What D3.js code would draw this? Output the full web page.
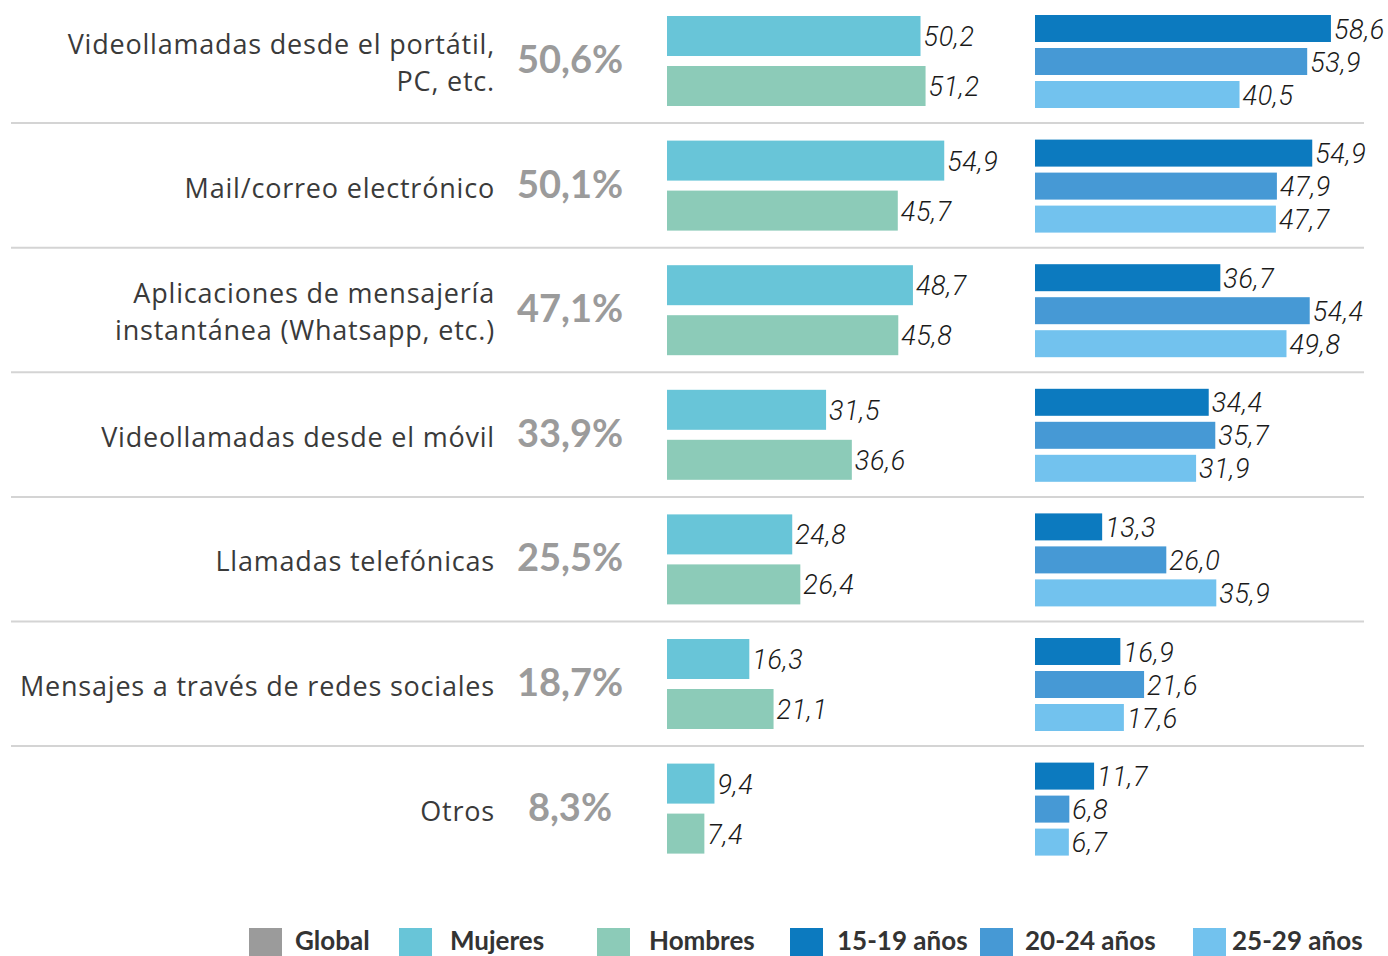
<!DOCTYPE html>
<html>
<head>
<meta charset="utf-8">
<script src="https://cdn.jsdelivr.net/npm/d3@7"></script>
<style>
  html, body { margin: 0; padding: 0; background: #fff; }
  svg { display: block; }
</style>
</head>
<body>
<div id="chart"></div>
<script>
const categories = [
  ["Videollamadas desde el portátil,", "PC, etc."],
  ["Mail/correo electrónico"],
  ["Aplicaciones de mensajería", "instantánea (Whatsapp, etc.)"],
  ["Videollamadas desde el móvil"],
  ["Llamadas telefónicas"],
  ["Mensajes a través de redes sociales"],
  ["Otros"]
]
const globalValues = [50.6, 50.1, 47.1, 33.9, 25.5, 18.7, 8.3]
const mujeres = [50.2, 54.9, 48.7, 31.5, 24.8, 16.3, 9.4]
const hombres = [51.2, 45.7, 45.8, 36.6, 26.4, 21.1, 7.4]
const age1519 = [58.6, 54.9, 36.7, 34.4, 13.3, 16.9, 11.7]
const age2024 = [53.9, 47.9, 54.4, 35.7, 26.0, 21.6, 6.8]
const age2529 = [40.5, 47.7, 49.8, 31.9, 35.9, 17.6, 6.7]
const legendLabels = ["Global", "Mujeres", "Hombres", "15-19 años", "20-24 años", "25-29 años"]

const colors = {
  "Global": "#9b9b9b",
  "Mujeres": "#68c5d8",
  "Hombres": "#8ccbb8",
  "15-19 años": "#0c7abf",
  "20-24 años": "#4699d5",
  "25-29 años": "#72c2ee"
}

const width = 1388, height = 956
const fmt = v => v.toFixed(1).replace(".", ",")

const svg = d3.select("#chart").append("svg")
  .attr("width", width)
  .attr("height", height)

const rowKeys = d3.range(categories.length)
const y = d3.scaleBand()
  .domain(rowKeys)
  .range([0, 124.6 * categories.length])

const x = d3.scaleLinear().domain([0, 60]).range([0, 303])
const genderX0 = 667, ageX0 = 1035

const yGender = d3.scaleBand().domain(["Mujeres", "Hombres"]).range([16, 106]).paddingInner(0.2)
const yAge = d3.scaleBand().domain(["15-19 años", "20-24 años", "25-29 años"]).range([15, 108]).paddingInner(6 / 33)

// separators
svg.append("g").selectAll("line")
  .data(rowKeys.slice(1))
  .join("line")
  .attr("x1", 11).attr("x2", 1364)
  .attr("y1", d => y(d) - 1.5).attr("y2", d => y(d) - 1.5)
  .attr("stroke", "#d4d4d4").attr("stroke-width", 2)

const rows = svg.append("g").selectAll("g.row")
  .data(rowKeys)
  .join("g")
  .attr("class", "row")
  .attr("transform", d => `translate(0, ${y(d)})`)

// category labels
rows.append("text")
  .attr("text-anchor", "end")
  .attr("font-family", "'Open Sans', sans-serif")
  .attr("font-size", 27)
  .attr("letter-spacing", 0.8)
  .attr("fill", "#3a3a3a")
  .selectAll("tspan")
  .data(d => categories[d].map((t, i, arr) => ({ t, i, n: arr.length })))
  .join("tspan")
  .attr("x", 495)
  .attr("y", d => d.n === 1 ? 73 : 54 + d.i * 37)
  .text(d => d.t)

// global %
rows.append("text")
  .attr("x", 570)
  .attr("y", 73)
  .attr("text-anchor", "middle")
  .attr("font-family", "Lato, sans-serif")
  .attr("font-weight", 700)
  .attr("font-size", 38)
  .attr("fill", colors["Global"])
  .text(d => fmt(globalValues[d]) + "%")

function drawGroup(series, yScale, x0) {
  rows.each(function(r) {
    const g = d3.select(this)
    const items = series.map(s => ({ key: s.key, v: s.values[r] }))
    g.selectAll(null)
      .data(items)
      .join("rect")
      .attr("x", x0)
      .attr("y", d => yScale(d.key))
      .attr("width", d => x(d.v))
      .attr("height", yScale.bandwidth())
      .attr("fill", d => colors[d.key])
    g.selectAll(null)
      .data(items)
      .join("text")
      .attr("x", d => x0 + x(d.v) + 3)
      .attr("y", d => yScale(d.key) + yScale.bandwidth() / 2 + 10)
      .attr("font-family", "Roboto, sans-serif")
      .attr("font-style", "italic")
      .attr("font-weight", 300)
      .attr("font-size", 27)
      .attr("letter-spacing", 0.6)
      .attr("fill", "#1a1a1a")
      .text(d => fmt(d.v))
  })
}

drawGroup([
  { key: "Mujeres", values: mujeres },
  { key: "Hombres", values: hombres }
], yGender, genderX0)

drawGroup([
  { key: "15-19 años", values: age1519 },
  { key: "20-24 años", values: age2024 },
  { key: "25-29 años", values: age2529 }
], yAge, ageX0)

// legend
const legendX = [249, 399, 597, 790, 980, 1193]
const legendTextX = [295, 450, 649, 837, 1025, 1232]
const legend = svg.append("g").selectAll("g")
  .data(legendLabels)
  .join("g")

legend.append("rect")
  .attr("x", (d, i) => legendX[i])
  .attr("y", 928)
  .attr("width", 33).attr("height", 30)
  .attr("fill", d => colors[d])

legend.append("text")
  .attr("x", (d, i) => legendTextX[i])
  .attr("y", 950)
  .attr("font-family", "Lato, sans-serif")
  .attr("font-weight", 700)
  .attr("font-size", 26)
  .attr("fill", "#333")
  .text(d => d)
</script>
</body>
</html>
